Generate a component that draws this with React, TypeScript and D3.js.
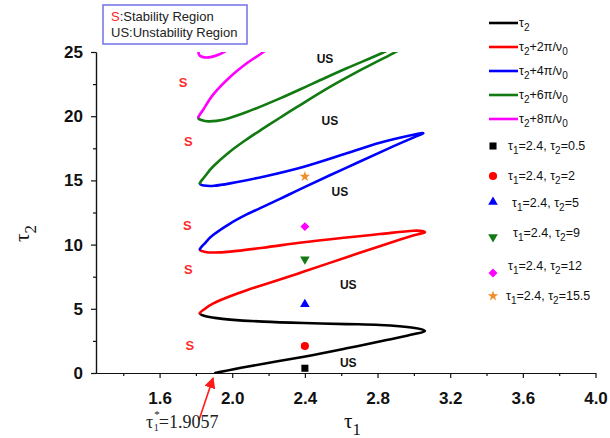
import React, { useEffect, useRef } from "react";
import * as d3 from "d3";

type Pt = [number, number];

// stability boundary branches (tau1, tau2).
// Consecutive branches meet at their left turning points.
const tau2Curve: Pt[] = [
    [1.9057, 0], [2.08, 0.49], [2.395, 1.27], [2.63, 1.92], [2.85, 2.57], [2.997, 3.01], [3.061, 3.27],
    [2.997, 3.53], [2.813, 3.74], [2.63, 3.81], [2.395, 3.89], [2.171, 4.0], [1.988, 4.16], [1.9, 4.3],
    [1.845, 4.45], [1.822, 4.65],
];
const shift2Curve: Pt[] = [
    [1.822, 4.65], [1.845, 4.95], [1.896, 5.42], [1.988, 5.98], [2.08, 6.45], [2.19, 6.95], [2.395, 7.9],
    [2.63, 9.02], [2.85, 10.05], [3.0, 10.72], [3.061, 10.96], [2.997, 11.08], [2.813, 10.82], [2.63, 10.55],
    [2.395, 10.18], [2.171, 9.76], [1.988, 9.45], [1.9, 9.38], [1.845, 9.45], [1.822, 9.63],
];
const shift4Curve: Pt[] = [
    [1.822, 9.63], [1.85, 10.12], [1.896, 10.76], [1.988, 11.64], [2.08, 12.35], [2.19, 13.08], [2.263, 13.56],
    [2.395, 14.46], [2.63, 16.0], [2.85, 17.42], [3.0, 18.35], [3.052, 18.67], [2.997, 18.56], [2.813, 17.94],
    [2.63, 17.11], [2.395, 16.07], [2.171, 15.29], [1.988, 14.77], [1.9, 14.58], [1.845, 14.6], [1.822, 14.77],
];
const shift6Curve: Pt[] = [
    [1.822, 14.77], [1.85, 15.32], [1.896, 16.1], [1.988, 17.25], [2.08, 18.2], [2.171, 19.05], [2.263, 19.88],
    [2.355, 20.7], [2.538, 22.28], [2.721, 23.7], [2.886, 24.9], [2.98, 25.6], [3.06, 26.3], [2.98, 26.0],
    [2.823, 24.9], [2.63, 23.73], [2.446, 22.56], [2.263, 21.39], [2.08, 20.32], [1.95, 19.72], [1.87, 19.6],
    [1.83, 19.7], [1.813, 19.91],
];
const shift8Curve: Pt[] = [
    [1.813, 19.91], [1.84, 20.5], [1.896, 21.7], [1.988, 23.05], [2.08, 24.12], [2.162, 24.9], [2.22, 25.5],
];
const shift8TopPiece: Pt[] = [
    [1.98, 25.2], [1.93, 24.82], [1.88, 24.6], [1.835, 24.62], [1.815, 24.85], [1.82, 25.3],
];

const curveNames = ["τ_2", "τ_2+2π/ν_0", "τ_2+4π/ν_0", "τ_2+6π/ν_0", "τ_2+8π/ν_0"];
const curveColors = ["#000000", "#ff0000", "#0000ff", "#117a11", "#ff00ff"];
const chain = [tau2Curve, shift2Curve, shift4Curve, shift6Curve, shift8Curve];

// test points at tau1 = 2.4
const pointTau2 = [0.37, 2.1, 5.35, 8.86, 11.4, 15.3];
const pointLabels = [
    "τ_1=2.4, τ_2=0.5", "τ_1=2.4, τ_2=2", "τ_1=2.4, τ_2=5",
    "τ_1=2.4, τ_2=9", "τ_1=2.4, τ_2=12", "τ_1=2.4, τ_2=15.5",
];
const pointShapes = ["square", "circle", "triangle", "triangleDown", "diamond", "star"];
const pointColors = ["#000000", "#ff0000", "#0000ff", "#117a11", "#ff00ff", "#f28c28"];

// region labels
const stableLabels: Pt[] = [[1.73, 22.61], [1.758, 18.01], [1.753, 11.53], [1.758, 8.08], [1.767, 2.13]];
const unstableLabels: Pt[] = [[2.511, 24.51], [2.538, 19.65], [2.593, 14.12], [2.639, 6.85], [2.639, 0.8]];

const xTicks = [1.6, 2.0, 2.4, 2.8, 3.2, 3.6, 4.0];
const xMinor = [1.4, 1.8, 2.2, 2.6, 3.0, 3.4, 3.8];
const yTicks = [0, 5, 10, 15, 20, 25];
const yMinor = [2.5, 7.5, 12.5, 17.5, 22.5];

const sans = "'Liberation Sans', Arial, sans-serif";
const serif = "'Liberation Serif', 'Times New Roman', serif";

const x = d3.scaleLinear().domain([1.25, 4.0]).range([96, 595.5]);
const y = d3.scaleLinear().domain([0, 25]).range([373, 52]);

// Catmull-Rom through the points, using neighbour points so joined branches stay smooth.
function smoothPath(pts: Pt[], prev?: Pt, next?: Pt): string {
    const px = pts.map((d) => [x(d[0]), y(d[1])]);
    const all = [prev ? [x(prev[0]), y(prev[1])] : px[0], ...px, next ? [x(next[0]), y(next[1])] : px[px.length - 1]];
    const path = d3.path();
    path.moveTo(all[1][0], all[1][1]);
    for (let i = 1; i < all.length - 2; i++) {
        const p0 = all[i - 1], p1 = all[i], p2 = all[i + 1], p3 = all[i + 2];
        path.bezierCurveTo(
            p1[0] + (p2[0] - p0[0]) / 6, p1[1] + (p2[1] - p0[1]) / 6,
            p2[0] - (p3[0] - p1[0]) / 6, p2[1] - (p3[1] - p1[1]) / 6,
            p2[0], p2[1],
        );
    }
    return path.toString();
}

// text with "_c" meaning subscript c
function Rich(props: { text: string; x: number; y: number; size: number; fill?: string; font?: string }) {
    const { text, size } = props;
    const tokens = text.split(/(_.)/).filter((t) => t.length > 0);
    const off = size * 0.32;
    let shifted = false;
    return (
        <text x={props.x} y={props.y} fontSize={size} fontFamily={props.font ?? sans} fill={props.fill ?? "#111"}>
            {tokens.map((t, i) => {
                if (t[0] === "_") {
                    const dy = shifted ? 0 : off;
                    shifted = true;
                    return <tspan key={i} dy={dy} fontSize={size * 0.8}>{t.slice(1)}</tspan>;
                }
                const dy = shifted ? -off : 0;
                shifted = false;
                return <tspan key={i} dy={dy}>{t}</tspan>;
            })}
        </text>
    );
}

function symbolPath(shape: string): { d: string; rotate: number } {
    const gen = d3.symbol();
    switch (shape) {
        case "square": return { d: gen.type(d3.symbolSquare).size(50)() as string, rotate: 0 };
        case "circle": return { d: gen.type(d3.symbolCircle).size(52)() as string, rotate: 0 };
        case "triangle": return { d: gen.type(d3.symbolTriangle).size(40)() as string, rotate: 0 };
        case "triangleDown": return { d: gen.type(d3.symbolTriangle).size(40)() as string, rotate: 180 };
        case "diamond": return { d: gen.type(d3.symbolSquare).size(40)() as string, rotate: 45 };
        default: return { d: gen.type(d3.symbolStar).size(34)() as string, rotate: 0 };
    }
}

export default function App() {
    const xAxisRef = useRef<SVGGElement>(null);
    const yAxisRef = useRef<SVGGElement>(null);

    useEffect(() => {
        const gx = d3.select(xAxisRef.current);
        gx.selectAll("*").remove();
        gx.append("g").call(d3.axisBottom(x).tickValues(xMinor).tickSize(3).tickSizeOuter(0).tickFormat(() => ""));
        gx.append("g").call(
            d3.axisBottom(x).tickValues(xTicks).tickSize(5).tickSizeOuter(0).tickPadding(14)
                .tickFormat(d3.format(".1f")),
        );

        const gy = d3.select(yAxisRef.current);
        gy.selectAll("*").remove();
        gy.append("g").call(d3.axisLeft(y).tickValues(yMinor).tickSize(3).tickSizeOuter(0).tickFormat(() => ""));
        gy.append("g").call(
            d3.axisLeft(y).tickValues(yTicks).tickSize(5).tickSizeOuter(0).tickPadding(8)
                .tickFormat(d3.format("d")),
        );

        [gx, gy].forEach((g) => {
            g.selectAll("path.domain, line").attr("stroke", "#111").attr("stroke-width", 1.2);
            g.selectAll("text")
                .attr("font-family", sans)
                .attr("font-weight", "bold")
                .attr("font-size", 17)
                .attr("fill", "#111");
        });
    }, []);

    const branchPaths = chain.map((pts, i) => smoothPath(
        pts,
        i > 0 ? chain[i - 1][chain[i - 1].length - 2] : undefined,
        i < chain.length - 1 ? chain[i + 1][1] : undefined,
    ));
    const topPiecePath = smoothPath(shift8TopPiece);

    const legendRowsY = [23, 47, 71, 95, 119];
    const pointRowsY = [146, 176, 202, 237, 273, 296];
    const pointTextX = [508, 508, 512, 513, 508, 506];
    const pointTextY = [150, 180, 207, 237, 270, 300];

    return (
        <svg width={610} height={438} style={{ position: "absolute", left: 0, top: 0, background: "#fff" }}>
            <defs>
                <clipPath id="plotClip">
                    <rect x={x(1.25)} y={y(25)} width={x(4.0) - x(1.25)} height={y(0) - y(25)} />
                </clipPath>
                <marker id="arrowHead" viewBox="0 0 10 10" refX="9" refY="5" markerWidth="7" markerHeight="7" orient="auto">
                    <path d="M0,0 L10,5 L0,10 z" fill="#ff1a1a" />
                </marker>
            </defs>

            <g clipPath="url(#plotClip)" fill="none" strokeWidth={2.6} strokeLinejoin="round" strokeLinecap="round">
                {branchPaths.map((d, i) => (
                    <path key={"b" + i} d={d} stroke={curveColors[i]} />
                ))}
                <path d={topPiecePath} stroke={curveColors[4]} />
            </g>

            <g ref={xAxisRef} transform={`translate(0,${y(0)})`} />
            <g ref={yAxisRef} transform={`translate(${x(1.25)},0)`} />

            {pointTau2.map((v, i) => {
                const s = symbolPath(pointShapes[i]);
                return (
                    <path key={"pt" + i} d={s.d} fill={pointColors[i]}
                        transform={`translate(${x(2.4)},${y(v)}) rotate(${s.rotate})`} />
                );
            })}

            {stableLabels.map((p, i) => (
                <text key={"s" + i} x={x(p[0])} y={y(p[1])} dy="0.36em" textAnchor="middle"
                    fontFamily={sans} fontWeight="bold" fontSize={13} fill="#ff2a2a">S</text>
            ))}
            {unstableLabels.map((p, i) => (
                <text key={"us" + i} x={x(p[0])} y={y(p[1])} dy="0.36em" textAnchor="middle"
                    fontFamily={sans} fontWeight="bold" fontSize={12} fill="#111">US</text>
            ))}

            {/* axis titles */}
            <g transform="translate(29,232) rotate(-90)">
                <Rich text="τ_2" x={-10} y={0} size={21} font={serif} />
            </g>
            <Rich text="τ_1" x={344} y={428} size={21} font={serif} />

            {/* critical delay annotation */}
            <line x1={199} y1={420} x2={x(1.9057) - 2} y2={y(0) + 5} stroke="#ff1a1a" strokeWidth={1.6}
                markerEnd="url(#arrowHead)" />
            <text x={146} y={428} fontFamily={serif} fontSize={18} fill="#222">
                τ
                <tspan dx={1} dy={-10} fontSize={11}>*</tspan>
                <tspan dx={-6} dy={13} fontSize={10}>1</tspan>
                <tspan dy={-3}>=1.9057</tspan>
            </text>

            {/* region legend */}
            <rect x={103} y={5} width={144} height={39} fill="#fff" stroke="#7a7ae8" strokeWidth={1.6} />
            <text x={111} y={21} fontFamily={sans} fontSize={13} fill="#222">
                <tspan fill="#ff2020">S</tspan>:Stability Region
            </text>
            <text x={111} y={37} fontFamily={sans} fontSize={13} fill="#222">US:Unstability Region</text>

            {/* curve legend */}
            {curveNames.map((name, i) => (
                <g key={"lg" + i}>
                    <line x1={489} x2={518} y1={legendRowsY[i]} y2={legendRowsY[i]} stroke={curveColors[i]} strokeWidth={2.6} />
                    <Rich text={name} x={519} y={legendRowsY[i] + 4} size={12.5} />
                </g>
            ))}
            {pointLabels.map((lab, i) => {
                const s = symbolPath(pointShapes[i]);
                return (
                    <g key={"pl" + i}>
                        <path d={s.d} fill={pointColors[i]}
                            transform={`translate(493,${pointRowsY[i]}) rotate(${s.rotate})`} />
                        <Rich text={lab} x={pointTextX[i]} y={pointTextY[i]} size={12.5} />
                    </g>
                );
            })}
        </svg>
    );
}
